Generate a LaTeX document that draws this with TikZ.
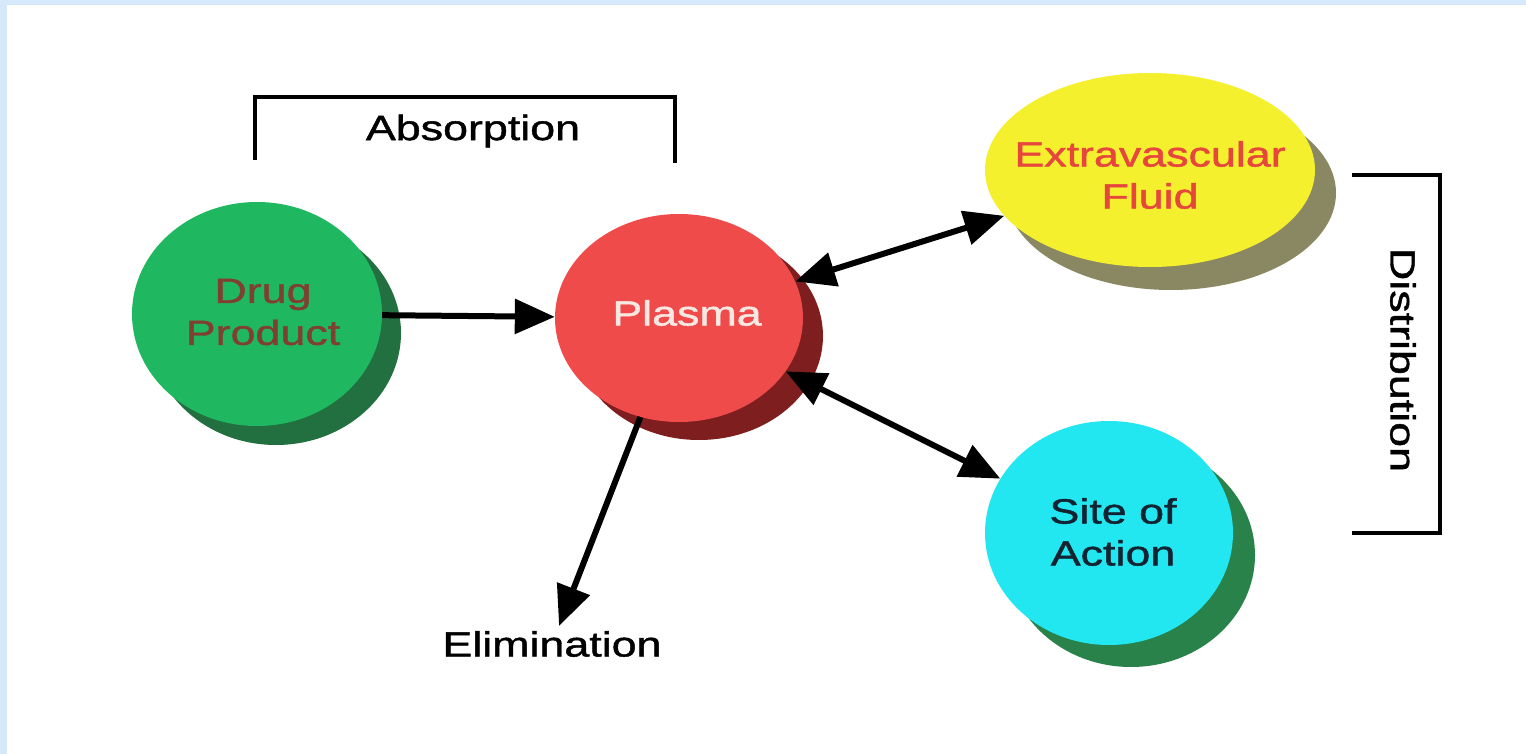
\documentclass[tikz,border=0pt]{standalone}
\usepackage{fontspec}
\setmainfont{Liberation Sans}
\newfontfamily\lblfont[FakeStretch=1.28,FakeBold=1.3]{Liberation Sans}
\usetikzlibrary{shapes.geometric,arrows.meta}
\definecolor{framebl}{HTML}{D6E9FB}
\definecolor{drugg}{HTML}{1FB860}
\definecolor{drugsh}{HTML}{22703F}
\definecolor{drugtxt}{HTML}{804030}
\definecolor{plasr}{HTML}{EF4B4B}
\definecolor{plassh}{HTML}{7E1E1E}
\definecolor{plastxt}{HTML}{F8E8E2}
\definecolor{exty}{HTML}{F4F02E}
\definecolor{extsh}{HTML}{8A8862}
\definecolor{exttxt}{HTML}{E6463C}
\definecolor{sitec}{HTML}{22E6F0}
\definecolor{sitesh}{HTML}{28824A}
\definecolor{sitetxt}{HTML}{122432}
\begin{document}
\begin{tikzpicture}[x=1pt,y=-1pt,
  every node/.style={font=\lblfont\fontsize{35}{42}\selectfont, inner sep=5pt},
  blob/.style={ellipse, inner sep=0pt, draw=none},
  txt/.style={align=center, inner sep=0pt},
  arr/.style={line width=6pt, -{Triangle[length=40pt,width=34pt]}},
  darr/.style={line width=6pt, {Triangle[length=40pt,width=34pt]}-{Triangle[length=40pt,width=34pt]}},
  bracket/.style={line width=4pt}
]
\useasboundingbox (0,0) rectangle (1526,754);
\fill[white] (0,0) rectangle (1526,754);
\fill[framebl] (0,0) rectangle (1526,5);
\fill[framebl] (0,0) rectangle (7,754);

% shadows
\fill[drugsh] (276,333) ellipse [x radius=125pt, y radius=112pt];
\fill[plassh] (699,336) ellipse [x radius=124pt, y radius=104pt];
\fill[extsh] (1171,193) ellipse [x radius=165pt, y radius=97pt];
\fill[sitesh] (1131,555) ellipse [x radius=124pt, y radius=112pt];

% main blobs
\node[blob, fill=drugg, minimum width=250pt, minimum height=224pt] (drug) at (257,314) {};
\node[blob, fill=plasr, minimum width=248pt, minimum height=208pt] (plasma) at (679,318) {};
\node[blob, fill=exty, minimum width=330pt, minimum height=194pt] (extra) at (1150,170) {};
\node[blob, fill=sitec, minimum width=248pt, minimum height=224pt] (site) at (1109,533) {};

% texts
\node[txt, text=drugtxt] (druglbl) at (263,312) {Drug\\Product};
\node[txt, text=plastxt] (plaslbl) at (687,313) {Plasma};
\node[txt, text=exttxt] (extlbl) at (1150,175) {Extravascular\\Fluid};
\node[txt, text=sitetxt] (sitelbl) at (1113,532) {Site of\\Action};
\node (elim) at (552,644) {Elimination};
\node[inner sep=0pt] (absorb) at (473,131) {Absorption};
\node[inner sep=0pt, rotate=-90] (distr) at (1403,360) {Distribution};

% brackets
\draw[bracket] (255,160) -- (255,97) -- (675,97) -- (675,163);
\draw[bracket] (1352,175) -- (1440,175) -- (1440,533) -- (1352,533);

% arrows
\draw[arr] (drug) -- (plasma);
\draw[darr] (plasma) -- (extra);
\draw[darr] (plasma) -- (site);
\draw[arr] (plasma) -- (elim);
\end{tikzpicture}
\end{document}
